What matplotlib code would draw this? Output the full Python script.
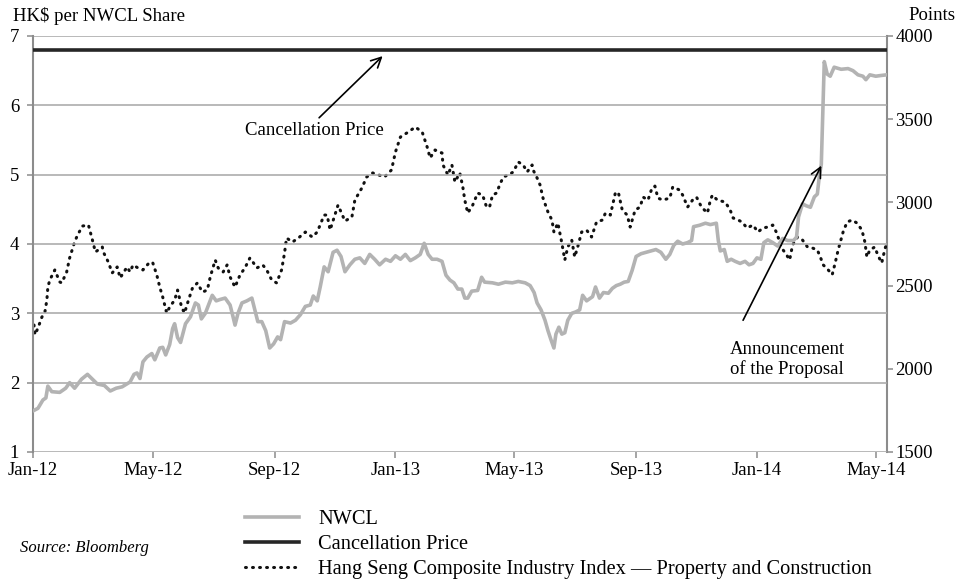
import matplotlib
matplotlib.use('Agg')
import matplotlib.pyplot as plt
import matplotlib.dates as mdates
import pandas as pd

plt.rcParams['font.family'] = ['Liberation Serif', 'DejaVu Serif']

# ---------------- data ----------------
nwcl_dates = [
    "2012-01-02", "2012-01-06", "2012-01-11", "2012-01-14", "2012-01-16", "2012-01-20", "2012-01-28",
    "2012-02-03", "2012-02-07", "2012-02-12", "2012-02-19", "2012-02-25", "2012-03-01", "2012-03-06",
    "2012-03-13", "2012-03-19", "2012-03-25", "2012-03-31", "2012-04-08", "2012-04-12", "2012-04-15",
    "2012-04-18", "2012-04-21", "2012-04-25", "2012-04-30", "2012-05-03", "2012-05-08", "2012-05-11",
    "2012-05-14", "2012-05-18", "2012-05-21", "2012-05-23", "2012-05-26", "2012-05-29", "2012-06-03",
    "2012-06-08", "2012-06-13", "2012-06-16", "2012-06-19", "2012-06-23", "2012-06-27", "2012-06-30",
    "2012-07-04", "2012-07-08", "2012-07-13", "2012-07-18", "2012-07-21", "2012-07-23", "2012-07-26",
    "2012-07-30", "2012-08-04", "2012-08-09", "2012-08-12", "2012-08-15", "2012-08-19", "2012-08-23",
    "2012-08-27", "2012-08-31", "2012-09-04", "2012-09-07", "2012-09-11", "2012-09-17", "2012-09-22",
    "2012-09-27", "2012-10-02", "2012-10-07", "2012-10-10", "2012-10-14", "2012-10-17", "2012-10-21",
    "2012-10-25", "2012-10-30", "2012-11-03", "2012-11-07", "2012-11-11", "2012-11-16", "2012-11-21",
    "2012-11-26", "2012-12-01", "2012-12-06", "2012-12-11", "2012-12-16", "2012-12-22", "2012-12-27",
    "2013-01-01", "2013-01-06", "2013-01-11", "2013-01-16", "2013-01-21", "2013-01-26", "2013-01-30",
    "2013-02-03", "2013-02-07", "2013-02-12", "2013-02-17", "2013-02-21", "2013-02-25", "2013-03-01",
    "2013-03-05", "2013-03-09", "2013-03-12", "2013-03-15", "2013-03-19", "2013-03-25", "2013-03-29",
    "2013-04-01", "2013-04-09", "2013-04-15", "2013-04-22", "2013-04-29", "2013-05-05", "2013-05-12",
    "2013-05-17", "2013-05-21", "2013-05-24", "2013-05-28", "2013-06-01", "2013-06-04", "2013-06-07",
    "2013-06-10", "2013-06-12", "2013-06-15", "2013-06-18", "2013-06-21", "2013-06-24", "2013-06-28",
    "2013-07-02", "2013-07-06", "2013-07-09", "2013-07-13", "2013-07-19", "2013-07-22", "2013-07-26",
    "2013-07-30", "2013-08-04", "2013-08-08", "2013-08-12", "2013-08-16", "2013-08-20", "2013-08-24",
    "2013-08-28", "2013-09-01", "2013-09-06", "2013-09-11", "2013-09-16", "2013-09-21", "2013-09-26",
    "2013-10-01", "2013-10-05", "2013-10-09", "2013-10-13", "2013-10-18", "2013-10-23", "2013-10-27",
    "2013-10-29", "2013-11-04", "2013-11-10", "2013-11-15", "2013-11-21", "2013-11-23", "2013-11-25",
    "2013-11-29", "2013-12-02", "2013-12-06", "2013-12-10", "2013-12-15", "2013-12-20", "2013-12-24",
    "2013-12-28", "2014-01-01", "2014-01-05", "2014-01-08", "2014-01-12", "2014-01-17", "2014-01-22",
    "2014-01-27", "2014-02-01", "2014-02-07", "2014-02-10", "2014-02-12", "2014-02-16", "2014-02-20",
    "2014-02-24", "2014-02-28", "2014-03-03", "2014-03-05", "2014-03-07", "2014-03-10", "2014-03-13",
    "2014-03-16", "2014-03-20", "2014-03-27", "2014-04-03", "2014-04-08", "2014-04-13", "2014-04-18",
    "2014-04-21", "2014-04-25", "2014-05-01", "2014-05-06", "2014-05-12",
]
nwcl_price = [
    1.60, 1.63, 1.75, 1.78, 1.95, 1.87, 1.86,
    1.92, 2.00, 1.92, 2.05, 2.12, 2.05, 1.98,
    1.96, 1.88, 1.92, 1.94, 2.01, 2.12, 2.14,
    2.06, 2.30, 2.37, 2.42, 2.33, 2.50, 2.51,
    2.40, 2.55, 2.78, 2.85, 2.65, 2.58, 2.85,
    2.95, 3.15, 3.12, 2.92, 3.00, 3.15, 3.26,
    3.18, 3.20, 3.22, 3.12, 2.95, 2.83, 3.00,
    3.15, 3.18, 3.22, 3.05, 2.88, 2.88, 2.75,
    2.50, 2.56, 2.66, 2.62, 2.88, 2.86, 2.90,
    2.98, 3.10, 3.12, 3.25, 3.18, 3.38, 3.67,
    3.60, 3.88, 3.91, 3.82, 3.60, 3.70, 3.78,
    3.80, 3.72, 3.85, 3.78, 3.70, 3.78, 3.75,
    3.83, 3.78, 3.85, 3.76, 3.80, 3.85, 4.01,
    3.85, 3.78, 3.78, 3.75, 3.55, 3.48, 3.44,
    3.35, 3.35, 3.22, 3.22, 3.32, 3.33, 3.52,
    3.45, 3.44, 3.42, 3.45, 3.44, 3.46, 3.44,
    3.40, 3.30, 3.15, 3.05, 2.90, 2.75, 2.62,
    2.50, 2.70, 2.80, 2.70, 2.72, 2.90, 3.00,
    3.02, 3.05, 3.26, 3.18, 3.24, 3.38, 3.22,
    3.30, 3.29, 3.36, 3.40, 3.42, 3.45, 3.46,
    3.62, 3.82, 3.86, 3.88, 3.90, 3.92, 3.88,
    3.78, 3.85, 3.98, 4.04, 4.00, 4.02, 4.05,
    4.25, 4.27, 4.30, 4.28, 4.30, 4.05, 3.90,
    3.92, 3.75, 3.78, 3.75, 3.72, 3.75, 3.70,
    3.72, 3.80, 3.78, 4.02, 4.06, 4.02, 3.97,
    4.08, 4.05, 4.05, 4.10, 4.39, 4.58, 4.55,
    4.53, 4.68, 4.72, 4.98, 5.15, 6.63, 6.45,
    6.42, 6.55, 6.52, 6.53, 6.50, 6.44, 6.42,
    6.37, 6.44, 6.42, 6.43, 6.44,
]

index_dates = [
    "2012-01-02", "2012-01-03", "2012-01-06", "2012-01-10", "2012-01-13", "2012-01-15", "2012-01-16",
    "2012-01-18", "2012-01-23", "2012-01-28", "2012-01-30", "2012-02-04", "2012-02-07", "2012-02-12",
    "2012-02-15", "2012-02-20", "2012-02-26", "2012-03-01", "2012-03-04", "2012-03-11", "2012-03-12",
    "2012-03-17", "2012-03-21", "2012-03-26", "2012-03-29", "2012-04-05", "2012-04-08", "2012-04-11",
    "2012-04-16", "2012-04-21", "2012-04-28", "2012-05-01", "2012-05-05", "2012-05-08", "2012-05-11",
    "2012-05-15", "2012-05-18", "2012-05-23", "2012-05-26", "2012-05-30", "2012-06-02", "2012-06-06",
    "2012-06-10", "2012-06-15", "2012-06-20", "2012-06-25", "2012-06-28", "2012-07-03", "2012-07-06",
    "2012-07-11", "2012-07-15", "2012-07-18", "2012-07-23", "2012-07-28", "2012-08-02", "2012-08-07",
    "2012-08-10", "2012-08-14", "2012-08-20", "2012-08-24", "2012-08-29", "2012-09-03", "2012-09-08",
    "2012-09-11", "2012-09-13", "2012-09-19", "2012-09-25", "2012-10-02", "2012-10-09", "2012-10-14",
    "2012-10-19", "2012-10-21", "2012-10-24", "2012-10-27", "2012-11-04", "2012-11-11", "2012-11-18",
    "2012-11-21", "2012-11-28", "2012-12-03", "2012-12-09", "2012-12-21", "2012-12-28", "2013-01-01",
    "2013-01-06", "2013-01-14", "2013-01-21", "2013-01-28", "2013-02-02", "2013-02-05", "2013-02-10",
    "2013-02-17", "2013-02-18", "2013-02-23", "2013-02-27", "2013-03-02", "2013-03-07", "2013-03-10",
    "2013-03-12", "2013-03-15", "2013-03-20", "2013-03-25", "2013-03-30", "2013-04-03", "2013-04-06",
    "2013-04-09", "2013-04-13", "2013-04-17", "2013-04-20", "2013-04-25", "2013-04-30", "2013-05-05",
    "2013-05-10", "2013-05-14", "2013-05-19", "2013-05-20", "2013-05-24", "2013-05-27", "2013-05-30",
    "2013-06-04", "2013-06-08", "2013-06-10", "2013-06-14", "2013-06-18", "2013-06-21", "2013-06-24",
    "2013-06-28", "2013-07-01", "2013-07-04", "2013-07-08", "2013-07-13", "2013-07-18", "2013-07-23",
    "2013-07-29", "2013-08-01", "2013-08-06", "2013-08-11", "2013-08-14", "2013-08-18", "2013-08-23",
    "2013-08-26", "2013-08-31", "2013-09-05", "2013-09-08", "2013-09-13", "2013-09-17", "2013-09-20",
    "2013-09-23", "2013-09-28", "2013-10-05", "2013-10-08", "2013-10-15", "2013-10-18", "2013-10-23",
    "2013-10-28", "2013-11-01", "2013-11-06", "2013-11-12", "2013-11-15", "2013-11-17", "2013-11-22",
    "2013-11-30", "2013-12-05", "2013-12-08", "2013-12-13", "2013-12-17", "2013-12-22", "2013-12-28",
    "2014-01-02", "2014-01-07", "2014-01-12", "2014-01-17", "2014-01-21", "2014-01-26", "2014-01-31",
    "2014-02-03", "2014-02-06", "2014-02-11", "2014-02-16", "2014-02-21", "2014-02-26", "2014-03-03",
    "2014-03-06", "2014-03-09", "2014-03-14", "2014-03-18", "2014-03-21", "2014-03-24", "2014-03-29",
    "2014-04-02", "2014-04-07", "2014-04-12", "2014-04-17", "2014-04-20", "2014-04-22", "2014-04-25",
    "2014-04-30", "2014-05-03", "2014-05-07", "2014-05-10", "2014-05-12",
]
index_points = [
    2263, 2205, 2245, 2311, 2341, 2413, 2491,
    2534, 2594, 2522, 2516, 2582, 2666, 2762,
    2804, 2858, 2864, 2774, 2702, 2732, 2702,
    2642, 2576, 2612, 2546, 2612, 2582, 2624,
    2606, 2594, 2642, 2636, 2564, 2491, 2431,
    2335, 2371, 2413, 2473, 2371, 2335, 2413,
    2485, 2516, 2461, 2473, 2552, 2654, 2606,
    2582, 2624, 2552, 2491, 2564, 2606, 2666,
    2642, 2606, 2624, 2594, 2534, 2516, 2594,
    2696, 2786, 2762, 2786, 2822, 2792, 2822,
    2894, 2924, 2924, 2834, 2984, 2888, 2912,
    3014, 3086, 3153, 3177, 3153, 3195, 3303,
    3393, 3423, 3453, 3423, 3333, 3267, 3315,
    3297, 3225, 3165, 3225, 3123, 3177, 3093,
    3014, 2936, 2984, 3056, 3044, 2972, 2972,
    3044, 3056, 3116, 3153, 3165, 3183, 3243,
    3225, 3183, 3225, 3195, 3147, 3105, 3026,
    2942, 2894, 2822, 2876, 2756, 2654, 2732,
    2774, 2672, 2732, 2822, 2834, 2792, 2882,
    2894, 2936, 2924, 3056, 3062, 2954, 2924,
    2852, 2954, 2972, 3032, 3014, 3086, 3098,
    3026, 3014, 3026, 3093, 3074, 3044, 2972,
    3014, 3032, 2972, 2936, 3014, 3044, 3014,
    3002, 2954, 2906, 2894, 2882, 2846, 2864,
    2822, 2846, 2852, 2864, 2816, 2726, 2684,
    2654, 2744, 2792, 2774, 2732, 2726, 2714,
    2672, 2624, 2594, 2565, 2636, 2714, 2822,
    2882, 2894, 2876, 2834, 2762, 2672, 2714,
    2732, 2684, 2636, 2714, 2756,
]

cancellation_price = 6.8
x_start = "2012-01-01"
x_end = "2014-05-12 08:00"
series_labels = ["NWCL", "Cancellation Price",
                 "Hang Seng Composite Industry Index \u2014 Property and Construction"]

# ---------------- styling ----------------
GRAY_LINE = '#b3b3b3'
DARK = '#262626'
GRID = '#a6a6a6'
SPINE = '#8c8c8c'
FS = 13.5

nd = pd.to_datetime(nwcl_dates)
idx = pd.to_datetime(index_dates)
x0, x1 = pd.Timestamp(x_start), pd.Timestamp(x_end)

fig = plt.figure(figsize=(9.58, 5.83), dpi=100)
ax = fig.add_axes([33/958, 1-452/583, (887-33)/958, (452-36)/583])
ax2 = ax.twinx()

ax.set_xlim(x0, x1)
ax.set_ylim(1, 7)
ax2.set_ylim(1500, 4000)

ax.set_yticks(range(1, 8))
ax2.set_yticks(range(1500, 4001, 500))
for yv in range(1, 8):
    ax.axhline(yv, color=GRID, lw=1.1, zorder=0)

ax.xaxis.set_major_locator(mdates.MonthLocator(bymonth=[1, 5, 9], bymonthday=1))
ax.xaxis.set_major_formatter(mdates.DateFormatter('%b-%y'))

for a in (ax, ax2):
    for s in a.spines.values():
        s.set_visible(False)
ax.spines['left'].set_visible(True)
ax.spines['left'].set_color(SPINE)
ax.spines['left'].set_linewidth(1.5)
ax2.spines['right'].set_visible(True)
ax2.spines['right'].set_color(SPINE)
ax2.spines['right'].set_linewidth(1.5)

ax.tick_params(axis='x', direction='out', length=4, width=1.1, color=SPINE, pad=3, labelsize=FS)
ax.tick_params(axis='y', direction='out', length=4, width=1.1, color=SPINE, pad=6, labelsize=FS)
ax2.tick_params(axis='y', direction='out', length=4, width=1.1, color=SPINE, pad=2, labelsize=FS)

# series
l_nwcl, = ax.plot(nd, nwcl_price, color=GRAY_LINE, lw=2.6, solid_joinstyle='round', zorder=3,
                  label=series_labels[0])
l_cancel = ax.axhline(cancellation_price, color=DARK, lw=2.6, zorder=3, label=series_labels[1])
l_idx, = ax2.plot(idx, index_points, color='#111111', lw=2.2, linestyle=(0, (0.3, 2.0)),
                  dash_capstyle='round', zorder=3, label=series_labels[2])

ax.set_zorder(ax2.get_zorder() + 1)
ax.patch.set_visible(False)

# annotations
ax.annotate('Cancellation Price', xy=(pd.Timestamp('2012-12-19'), 6.71),
            xytext=(pd.Timestamp('2012-10-11'), 5.63), ha='center', va='center', fontsize=FS,
            arrowprops=dict(arrowstyle='->', color='black', lw=1.2, relpos=(0.5, 1.0),
                            shrinkA=2, shrinkB=0, mutation_scale=18), zorder=6)
ax.annotate('', xy=(pd.Timestamp('2014-03-07'), 5.13),
            xytext=(pd.Timestamp('2013-12-18'), 2.90),
            arrowprops=dict(arrowstyle='->', color='black', lw=1.2, shrinkA=0, shrinkB=0,
                            mutation_scale=18), zorder=6)
ax.text(pd.Timestamp('2013-12-05'), 2.33, 'Announcement\nof the Proposal', ha='left', va='center',
        fontsize=FS, linespacing=1.15, zorder=6)

# axis titles
fig.text(13/958, 1-16/583, 'HK$ per NWCL Share', ha='left', va='center', fontsize=FS)
fig.text(955/958, 1-16/583, 'Points', ha='right', va='center', fontsize=FS)

# legend
fig.legend(handles=[l_nwcl, l_cancel, l_idx], labels=series_labels, loc='upper left',
           bbox_to_anchor=(245/958, 1-510/583), frameon=False, fontsize=14.7,
           handlelength=2.65, handletextpad=0.95, labelspacing=0.28, borderpad=0, borderaxespad=0)

fig.text(20/958, 1-548/583, 'Source: Bloomberg', ha='left', va='center', fontsize=12, style='italic')

fig.savefig('out.png', dpi=100)
